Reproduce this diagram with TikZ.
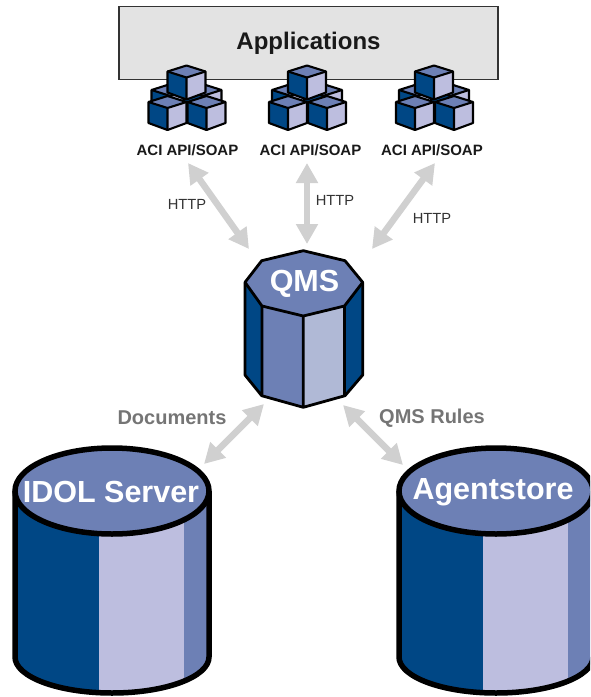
\documentclass[tikz,border=0pt]{standalone}
\usepackage{fontspec}
\setmainfont{Liberation Sans}
\usetikzlibrary{arrows.meta}
\definecolor{cdark}{HTML}{004785}
\definecolor{cmid}{HTML}{6D80B5}
\definecolor{clight}{HTML}{BDBEDF}
\definecolor{qlight}{HTML}{B0B9D6}
\definecolor{boxgray}{HTML}{E3E3E3}
\definecolor{arrowgray}{HTML}{D0D0D0}
\definecolor{labelgray}{HTML}{757575}
\tikzset{
  x=1pt,y=-1pt,
  edge/.style={draw=black,line width=2.1pt,line join=round},
  qedge/.style={draw=black,line width=2.8pt,line join=round},
  thick edge/.style={draw=black,line width=5.5pt},
  flow/.style={draw=arrowgray,line width=6.5pt,{Triangle[width=21pt,length=20pt]}-{Triangle[width=21pt,length=20pt]}},
  aci/.style={font=\fontsize{15}{17}\bfseries\selectfont,text=black!90,inner sep=0pt},
  http/.style={font=\fontsize{14.7}{17}\selectfont,text=black!80,inner sep=0pt},
  flowlabel/.style={font=\fontsize{20}{23}\bfseries\selectfont,text=labelgray,inner sep=0pt},
  dbtitle/.style={font=\fontsize{30.5}{34}\bfseries\selectfont,text=white,inner sep=0pt},
  cube/.pic={
    \fill[cdark] (-19,0)--(0,6)--(0,28)--(-19,21)--cycle;
    \fill[clight] (19,0)--(0,6)--(0,28)--(19,21)--cycle;
    \fill[cmid] (0,-6)--(19,0)--(0,6)--(-19,0)--cycle;
    \draw[edge] (-19,0)--(0,-6)--(19,0)--(19,21)--(0,28)--(-19,21)--cycle;
    \draw[edge] (-19,0)--(0,6)--(19,0) (0,6)--(0,28);
  },
  cubes/.pic={
    \pic at (-16,90) {cube};
    \pic at (16,90) {cube};
    \pic at (0,71.5) {cube};
    \pic at (-19,102) {cube};
    \pic at (20,102) {cube};
  },
  barrel/.pic={
    \begin{scope}
      \clip (15,491)--(15,657) arc[start angle=180,end angle=360,x radius=97,y radius=-36] -- (209,491) -- cycle;
      \fill[cdark] (10,485) rectangle (99,700);
      \fill[clight] (99,485) rectangle (184,700);
      \fill[cmid] (184,485) rectangle (215,700);
    \end{scope}
    \draw[thick edge] (15,491)--(15,657) arc[start angle=180,end angle=360,x radius=97,y radius=-36] -- (209,491);
    \draw[thick edge,fill=cmid] (112,491) ellipse[x radius=97,y radius=43];
  }
}
\begin{document}
\begin{tikzpicture}
\useasboundingbox (0,0) rectangle (590,697);
\clip (0,0) rectangle (590,697);

% Applications box
\node[draw=black!80,line width=1.3pt,fill=boxgray,minimum width=379pt,minimum height=73pt,inner sep=0pt] (apps) at (308.5,43) {};
\node[font=\fontsize{24}{27}\bfseries\selectfont,text=black!90,inner sep=0pt] (appstitle) at (308.5,43.5) {Applications};

% Cube clusters
\pic at (186.5,0) {cubes};
\pic at (307,0) {cubes};
\pic at (434,0) {cubes};

% Labels
\node[aci] (aci1) at (187.5,150) {ACI API/SOAP};
\node[aci] (aci2) at (310.5,150) {ACI API/SOAP};
\node[aci] (aci3) at (432,150) {ACI API/SOAP};

% QMS
\fill[cdark] (245,282)--(245,375)--(262,396)--(262,306)--cycle;
\fill[cdark] (363,282)--(363,375)--(345,396)--(345,306)--cycle;
\fill[cmid] (262,306)--(262,396)--(303,407)--(303,316)--cycle;
\fill[qlight] (345,306)--(345,396)--(303,407)--(303,316)--cycle;
\draw[qedge,fill=cmid] (303.3,250.7)--(345,260.7)--(362.7,282.3)--(344.5,306)--(303.3,316)--(262,306)--(245,282.3)--(261.7,260.7)--cycle;
\draw[qedge] (245,282.3)--(245,375)--(261.7,395.7)--(303.3,407.3)--(345,395.7)--(362.7,375)--(362.7,282.3)
  (262,306)--(262,395.7) (303.3,316)--(303.3,407.3) (344.5,306)--(344.5,395.7);
\node[dbtitle] (qms) at (304.5,284) {QMS};

% Databases
\pic at (0,0) {barrel};
\pic at (384,0) {barrel};
\node[dbtitle] (idol) at (111,492) {IDOL Server};
\node[dbtitle] (agent) at (493,492) {Agentstore};

% Connector ends
\coordinate (a1) at (188,163);
\coordinate (q1) at (249,249);
\coordinate (a2) at (307,163);
\coordinate (q2) at (307,244);
\coordinate (a3) at (435,163);
\coordinate (q3) at (372,249);
\coordinate (q4) at (264,404);
\coordinate (d1) at (204,464);
\coordinate (q5) at (343,405);
\coordinate (d2) at (403,465);
\draw[flow] (a1)--(q1);
\draw[flow] (a2)--(q2);
\draw[flow] (a3)--(q3);
\draw[flow] (q4)--(d1);
\draw[flow] (q5)--(d2);

\node[http] (h1) at (187,204) {HTTP};
\node[http] (h2) at (335,200) {HTTP};
\node[http] (h3) at (432,218) {HTTP};
\node[flowlabel] (docs) at (172,418) {Documents};
\node[flowlabel] (rules) at (432,418) {QMS Rules};
\end{tikzpicture}
\end{document}
